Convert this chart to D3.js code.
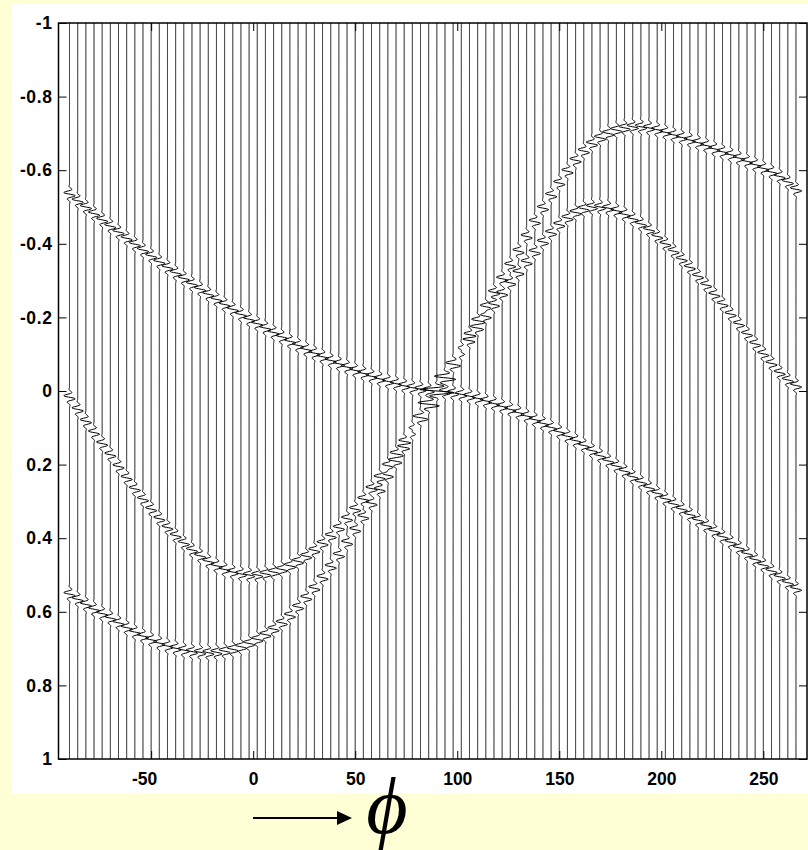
<!DOCTYPE html>
<html><head><meta charset="utf-8">
<script src="https://cdn.jsdelivr.net/npm/d3@7"></script>
<style>
html,body{margin:0;padding:0;background:#FFFFD5;}
svg{display:block;}
</style></head><body>
<svg id="chart" width="808" height="850"></svg>
<script>
// Trace positions (phi, degrees)
const phi = [-90,-86,-82,-78,-74,-70,-66,-62,-58,-54,-50,-46,-42,-38,-34,-30,-26,-22,-18,-14,-10,-6,-2,2,6,10,14,18,22,26,30,34,38,42,46,50,54,58,62,66,70,74,78,82,86,90,94,98,102,106,110,114,118,122,126,130,134,138,142,146,150,154,158,162,166,170,174,178,182,186,190,194,198,202,206,210,214,218,222,226,230,234,238,242,246,250,254,258,262,266];
// Event times on each trace (three events)
const eventA = [-0.535,-0.517,-0.500,-0.482,-0.465,-0.448,-0.432,-0.415,-0.399,-0.383,-0.367,-0.351,-0.336,-0.321,-0.306,-0.291,-0.277,-0.263,-0.249,-0.235,-0.222,-0.208,-0.195,-0.183,-0.171,-0.159,-0.147,-0.135,-0.124,-0.113,-0.103,-0.093,-0.083,-0.074,-0.065,-0.056,-0.048,-0.040,-0.033,-0.026,-0.020,-0.014,-0.009,-0.005,-0.002,0.000,0.002,0.005,0.009,0.014,0.020,0.027,0.034,0.042,0.050,0.059,0.068,0.078,0.088,0.099,0.111,0.123,0.135,0.148,0.162,0.176,0.190,0.204,0.218,0.233,0.248,0.263,0.278,0.293,0.307,0.321,0.336,0.351,0.366,0.381,0.396,0.411,0.426,0.442,0.458,0.473,0.489,0.505,0.521,0.537];
const eventB = [0.017,0.050,0.082,0.113,0.143,0.173,0.205,0.236,0.266,0.294,0.321,0.347,0.371,0.393,0.413,0.432,0.448,0.463,0.475,0.485,0.492,0.497,0.500,0.500,0.497,0.492,0.485,0.475,0.463,0.449,0.433,0.414,0.394,0.372,0.347,0.321,0.294,0.265,0.235,0.203,0.171,0.138,0.104,0.070,0.035,0.000,-0.035,-0.070,-0.104,-0.138,-0.171,-0.203,-0.235,-0.265,-0.294,-0.322,-0.350,-0.378,-0.405,-0.430,-0.452,-0.470,-0.485,-0.495,-0.500,-0.500,-0.497,-0.490,-0.480,-0.468,-0.454,-0.438,-0.420,-0.400,-0.380,-0.358,-0.336,-0.312,-0.288,-0.262,-0.236,-0.209,-0.182,-0.155,-0.128,-0.101,-0.075,-0.050,-0.030,-0.015];
const eventC = [0.552,0.566,0.580,0.593,0.605,0.617,0.630,0.643,0.655,0.666,0.676,0.685,0.693,0.699,0.704,0.708,0.710,0.711,0.710,0.707,0.702,0.695,0.686,0.675,0.662,0.647,0.630,0.610,0.587,0.562,0.536,0.507,0.477,0.446,0.412,0.377,0.342,0.305,0.268,0.229,0.191,0.152,0.113,0.075,0.037,0.000,-0.037,-0.075,-0.113,-0.152,-0.191,-0.229,-0.268,-0.305,-0.342,-0.380,-0.420,-0.460,-0.497,-0.532,-0.565,-0.597,-0.627,-0.652,-0.672,-0.688,-0.700,-0.709,-0.715,-0.718,-0.718,-0.715,-0.710,-0.703,-0.696,-0.689,-0.682,-0.675,-0.667,-0.658,-0.650,-0.642,-0.633,-0.624,-0.615,-0.605,-0.595,-0.583,-0.568,-0.548];
const xTickValues = [-50,0,50,100,150,200,250];
const xTickLabels = ["-50","0","50","100","150","200","250"];
const yTickValues = [-1,-0.8,-0.6,-0.4,-0.2,0,0.2,0.4,0.6,0.8,1];
const yTickLabels = ["-1","-0.8","-0.6","-0.4","-0.2","0","0.2","0.4","0.6","0.8","1"];
const xLimits = [-95.4, 271.4];
const yLimits = [-1, 1];
const axisLabel = "\u03D5";

const svg = d3.select("#chart");
const plot = {left:58.5, right:807, top:23, bottom:759};

// white panel
svg.append("rect").attr("x",12).attr("y",3).attr("width",796).attr("height",791).attr("fill","#ffffff");

const x = d3.scaleLinear().domain(xLimits).range([plot.left, plot.right]);
const y = d3.scaleLinear().domain(yLimits).range([plot.top, plot.bottom]);

// wavelet
const period = 0.019, sigma = 0.014, amp = 3.1;
function wavelet(tau){ return Math.sin(2*Math.PI*tau/period)*Math.exp(-(tau/sigma)*(tau/sigma)); }
const tSamples = d3.range(-1, 1.00001, 0.0012);
const events = [eventA, eventB, eventC];

const line = d3.line().x(d => x(d[0])).y(d => y(d[1]));
const traces = svg.append("g").attr("fill","none").attr("stroke","#000").attr("stroke-width",1);
phi.forEach((p, i) => {
  const pts = tSamples.map(t => {
    let s = 0;
    events.forEach(ev => { const tau = t - ev[i]; if (Math.abs(tau) < 0.06) s += wavelet(tau); });
    return [p + amp*s, t];
  });
  traces.append("path").attr("d", line(pts));
});

const font = "'Liberation Sans', Arial, Helvetica, sans-serif";
const tl = 8;
const gL = svg.append("g").attr("transform",`translate(${plot.left},0)`)
  .call(d3.axisLeft(y).tickValues(yTickValues).tickFormat((d,i)=>yTickLabels[i]).tickSize(-tl).tickPadding(6));
const gR = svg.append("g").attr("transform",`translate(${plot.right},0)`)
  .call(d3.axisRight(y).tickValues(yTickValues).tickFormat("").tickSize(-tl));
const gB = svg.append("g").attr("transform",`translate(0,${plot.bottom})`)
  .call(d3.axisBottom(x).tickValues(xTickValues).tickFormat((d,i)=>xTickLabels[i]).tickSize(-tl).tickPadding(14));
const gT = svg.append("g").attr("transform",`translate(0,${plot.top})`)
  .call(d3.axisTop(x).tickValues(xTickValues).tickFormat("").tickSize(-tl));
[gL,gR,gB,gT].forEach(g => {
  g.attr("font-size", null).attr("font-family", null);
  g.select(".domain").remove();
  g.selectAll(".tick line").attr("stroke","#000").attr("stroke-width",1);
  g.selectAll("text")
    .style("font-family",font).style("font-weight","bold").style("font-size","17.5px").style("fill","#000");
});
gL.selectAll("text").style("letter-spacing","0.6px");
gB.selectAll("text").filter(d => d < 0).attr("dx", -7);

svg.append("rect").attr("x",plot.left).attr("y",plot.top)
  .attr("width",plot.right-plot.left).attr("height",plot.bottom-plot.top)
  .attr("fill","none").attr("stroke","#000").attr("stroke-width",1.5);

// arrow + phi label
svg.append("line").attr("x1",253).attr("x2",340).attr("y1",818).attr("y2",818).attr("stroke","#000").attr("stroke-width",2);
svg.append("path").attr("d","M337,811 L352,818 L337,825 Z").attr("fill","#000");
svg.append("text").attr("x",387).attr("y",833).attr("text-anchor","middle")
  .style("font-family","'Liberation Serif','Times New Roman','DejaVu Serif',serif").style("font-style","italic")
  .style("font-size","80px").style("fill","#000").text(axisLabel);
</script>
</body></html>
